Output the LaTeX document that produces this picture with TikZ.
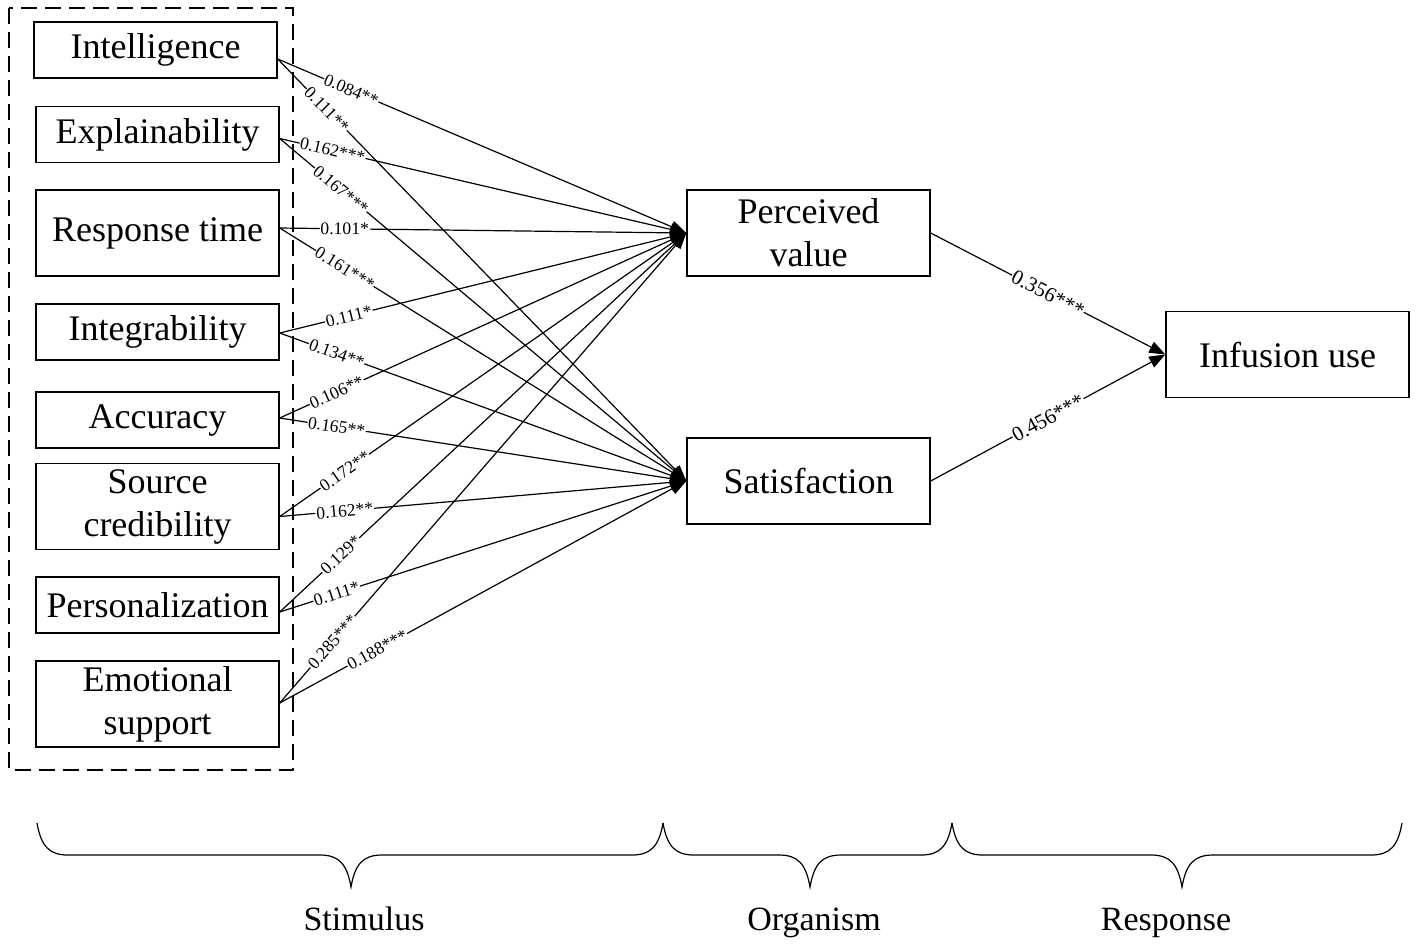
\documentclass[tikz,border=0pt]{standalone}
\usepackage{fontspec}
\setmainfont{Liberation Serif}
\usetikzlibrary{arrows.meta,calc}

\begin{document}
\begin{tikzpicture}[
		x=0.5pt, y=-0.5pt,
		box/.style={draw, line width=0.7pt, minimum width=121.5pt, minimum height=28pt, inner sep=1pt, align=center, font=\fontsize{18}{21.5}\selectfont},
		tall/.style={box, minimum height=43pt},
		link/.style={line width=0.6pt, -{Triangle[length=8pt,width=6pt]}},
		wt/.style={sloped, fill=white, inner sep=0.4pt, font=\fontsize{8.8}{10}\selectfont},
		bigwt/.style={wt, font=\fontsize{10.5}{12}\selectfont},
		brace/.style={line width=0.6pt},
		stage/.style={anchor=base, font=\fontsize{17}{20}\selectfont}
		]
		\useasboundingbox (0,0) rectangle (1418,950);
		% stimulus column
		\draw[line width=0.9pt, dash pattern=on 8pt off 4pt] (9,8) rectangle (293,770);
		\node[box] (intel) at (155.5,50) {Intelligence};
		\node[box] (expl) at (157.5,134.5) {Explainability};
		\node[tall] (resp) at (157.5,233) {Response time};
		\node[box] (integ) at (157.5,332) {Integrability};
		\node[box] (acc) at (157.5,420) {Accuracy};
		\node[tall] (src) at (157.5,506.5) {Source\\credibility};
		\node[box] (pers) at (157.5,605) {Personalization};
		\node[tall] (emo) at (157.5,704) {Emotional\\support};
		% organism and response
		\node[tall] (pv) at (808.5,233) {Perceived\\value};
		\node[tall] (sat) at (808.5,481) {Satisfaction};
		\node[tall] (inf) at (1287.5,354.5) {Infusion use};
		% paths to organism
		\foreach \src/\dy/\la/\pa/\lb/\pb in {
			intel/9/0.084**/.18/0.111**/.12,
			expl/4/0.162***/.13/0.167***/.15,
			resp/-5/0.101*/.16/0.161***/.16,
			integ/1/0.111*/.17/0.134**/.14,
			acc/-2/0.106**/.14/0.165**/.14,
			src/10/0.172**/.16/0.162**/.16,
			pers/7/0.129*/.15/0.111*/.14,
			emo/-1/0.285***/.13/0.188***/.24}
		{
			\draw[link] ($(\src.east)+(0,\dy)$) -- node[wt,pos=\pa] {\la} (pv.west);
			\draw[link] ($(\src.east)+(0,\dy)$) -- node[wt,pos=\pb] {\lb} (sat.west);
		}
		% paths to response
		\draw[link] (pv.east) -- node[bigwt] {0.356***} (inf.west);
		\draw[link] (sat.east) -- node[bigwt] {0.456***} (inf.west);
		% braces
		\foreach \a/\b/\m/\t/\tx in {37/663/351/Stimulus/364, 663/952/810/Organism/814, 952/1402/1182/Response/1166}
		{
			\draw[brace] (\a,823) .. controls ({\a+4},846) and ({\a+12},855) .. ({\a+31},855)
				-- ({\m-31},855) .. controls ({\m-12},855) and ({\m-4},864) .. (\m,887)
				.. controls ({\m+4},864) and ({\m+12},855) .. ({\m+31},855)
				-- ({\b-31},855) .. controls ({\b-12},855) and ({\b-4},846) .. (\b,823);
			\node[stage] (\t) at (\tx,930) {\t};
		}
\end{tikzpicture}
\end{document}
